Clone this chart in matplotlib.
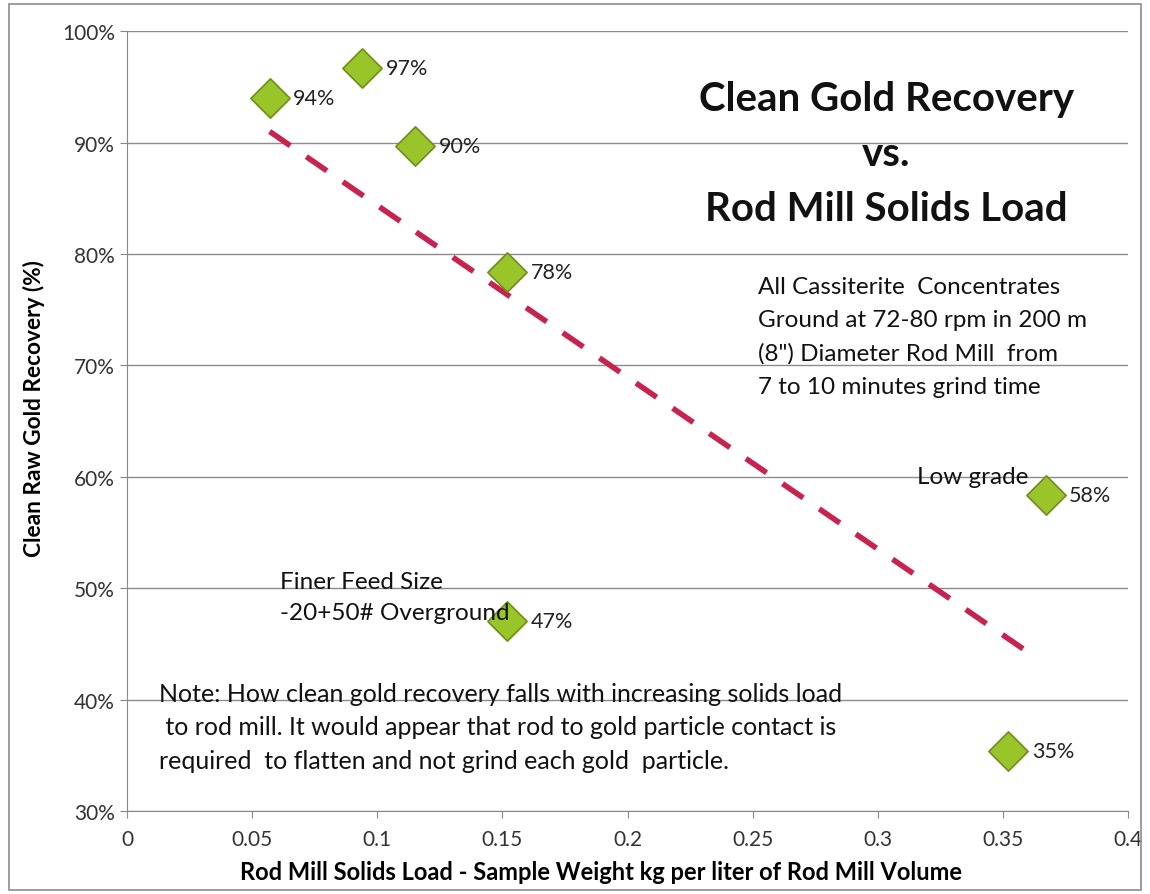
import matplotlib
matplotlib.use("Agg")
from matplotlib import pyplot as plt
from matplotlib.patches import Rectangle
from matplotlib.ticker import FuncFormatter

plt.rcParams['font.family'] = ['Lato', 'DejaVu Sans']

# data
solids_load = [0.057, 0.094, 0.115, 0.152, 0.152, 0.367, 0.352]
recovery = [94.0, 96.7, 89.7, 78.4, 47.1, 58.4, 35.4]
labels = ["94%", "97%", "90%", "78%", "47%", "58%", "35%"]

# dashed trend line endpoints
trend_x = [0.057, 0.361]
trend_y = [91.0, 44.1]

fig = plt.figure(figsize=(11.5, 8.95), dpi=100)
ax = fig.add_axes([0.1104, 0.0927, 0.8706, 0.8713])

#frame round the whole chart
fig.patches.append(Rectangle((0.008, 0.004), 0.984, 0.99, transform=fig.transFigure,
                             fill=False, edgecolor="#8c8c8c", linewidth=1.2))

ax.plot(trend_x, trend_y, linestyle=(0, (4.5, 3.5)), color="#c8234f", linewidth=4, zorder=2)
ax.scatter(solids_load, recovery, marker="D", s=400, color="#99c42a",
           edgecolor="#6e8f1a", linewidth=1.2, zorder=3)
for x, y, lab in zip(solids_load, recovery, labels):
    ax.annotate(lab, (x, y), xytext=(17, 0), textcoords="offset points",
                va="center", ha="left", fontsize=15.5, color="#222222")

ax.set_xlim(0, 0.4)
ax.set_ylim(30, 100)
ax.set_xticks([0, 0.05, 0.1, 0.15, 0.2, 0.25, 0.3, 0.35, 0.4])
ax.set_xticklabels(["0", "0.05", "0.1", "0.15", "0.2", "0.25", "0.3", "0.35", "0.4"])
ax.set_yticks(range(30, 101, 10))
ax.yaxis.set_major_formatter(FuncFormatter(lambda v, p: "%d%%" % v))
ax.tick_params(labelsize=15, colors="#333333", length=5, color="#888888")
ax.tick_params(axis="x", pad=8)
ax.grid(axis="y", color="#8c8c8c", linewidth=1)
ax.set_axisbelow(True)
for s in ["top", "right"]:
    ax.spines[s].set_visible(False)
for s in ["left", "bottom"]:
    ax.spines[s].set_color("#888888")

ax.set_xlabel("Rod Mill Solids Load - Sample Weight kg per liter of Rod Mill Volume",
              fontsize=17, fontweight="bold")
ax.xaxis.set_label_coords(0.473, -0.063)
ax.set_ylabel("Clean Raw Gold Recovery (%)", fontsize=16.3, fontweight="bold")
ax.yaxis.set_label_coords(-0.082, 0.518)

ax.text(0.3033, 89.0, "Clean Gold Recovery\nvs.\nRod Mill Solids Load", ha="center", va="center",
        fontsize=29, fontweight="bold", linespacing=1.6, color="#111111")
ax.text(0.252, 78.0, "All Cassiterite  Concentrates\nGround at 72-80 rpm in 200 m\n(8\") Diameter Rod Mill  from\n7 to 10 minutes grind time",
        ha="left", va="top", fontsize=17.5, linespacing=1.7, color="#111111")
ax.text(0.3155, 60.0, "Low grade", ha="left", va="center", fontsize=17.5, color="#111111")
ax.text(0.061, 49.2, "Finer Feed Size\n-20+50# Overground", ha="left", va="center",
        fontsize=17.5, linespacing=1.6, color="#111111")
ax.text(0.013, 41.6, "Note: How clean gold recovery falls with increasing solids load\n to rod mill. It would appear that rod to gold particle contact is\nrequired  to flatten and not grind each gold  particle.",
        ha="left", va="top", fontsize=18, linespacing=1.55, color="#111111")

fig.savefig("out.png", dpi=100)
